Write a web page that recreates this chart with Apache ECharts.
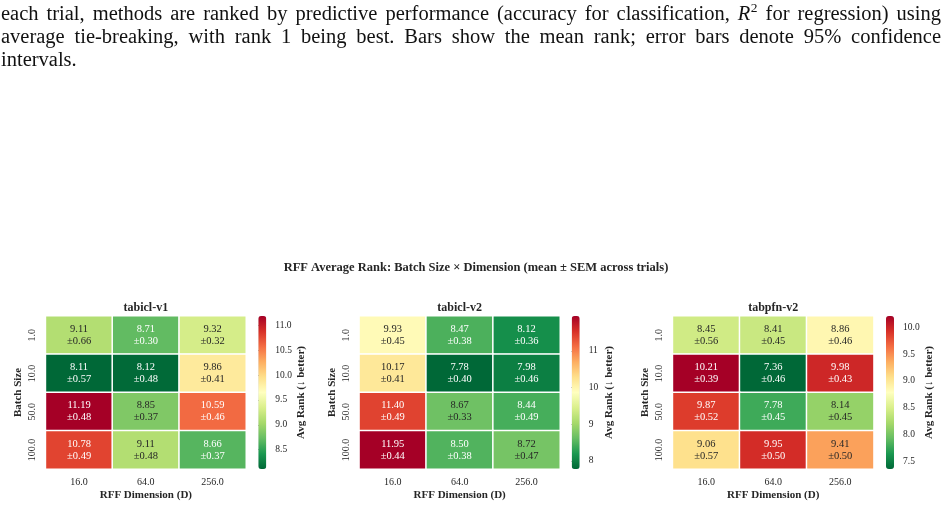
<!DOCTYPE html>
<html>
<head>
<meta charset="utf-8">
<script src="https://cdn.jsdelivr.net/npm/echarts@6/dist/echarts.min.js"></script>
<style>
  html, body { margin: 0; padding: 0; background: #fff; }
  #chart { width: 948px; height: 508px; }
</style>
</head>
<body>
<div id="chart"></div>
<script>
// ---- data ----
const batchSizes = ['1.0', '10.0', '50.0', '100.0'];
const rffDims = ['16.0', '64.0', '256.0'];
const models = ['tabicl-v1', 'tabicl-v2', 'tabpfn-v2'];

// rows = batch size, cols = RFF dimension
const meanTabiclV1 = [[9.11, 8.71, 9.32], [8.11, 8.12, 9.86], [11.19, 8.85, 10.59], [10.78, 9.11, 8.66]];
const semTabiclV1 = [[0.66, 0.30, 0.32], [0.57, 0.48, 0.41], [0.48, 0.37, 0.46], [0.49, 0.48, 0.37]];
const meanTabiclV2 = [[9.93, 8.47, 8.12], [10.17, 7.78, 7.98], [11.40, 8.67, 8.44], [11.95, 8.50, 8.72]];
const semTabiclV2 = [[0.45, 0.38, 0.36], [0.41, 0.40, 0.46], [0.49, 0.33, 0.49], [0.44, 0.38, 0.47]];
const meanTabpfnV2 = [[8.45, 8.41, 8.86], [10.21, 7.36, 9.98], [9.87, 7.78, 8.14], [9.06, 9.95, 9.41]];
const semTabpfnV2 = [[0.56, 0.45, 0.46], [0.39, 0.46, 0.43], [0.52, 0.45, 0.45], [0.57, 0.50, 0.50]];

const cbTicksV1 = [8.5, 9.0, 9.5, 10.0, 10.5, 11.0];
const cbTicksV2 = [8, 9, 10, 11];
const cbTicksPfn = [7.5, 8.0, 8.5, 9.0, 9.5, 10.0];

const suptitle = 'RFF Average Rank: Batch Size \u00d7 Dimension (mean \u00b1 SEM across trials)';
const paragraph = [
  'each trial, methods are ranked by predictive performance (accuracy for classification, R^2 for regression) using',
  'average tie-breaking, with rank 1 being best. Bars show the mean rank; error bars denote 95% confidence',
  'intervals.'
];

// ---- style / layout ----
const serif = '"Liberation Serif", "Times New Roman", serif';
const ink = '#262626';
// RdYlGn reversed
const cmap = ['#006837', '#1a9850', '#66bd63', '#a6d96a', '#d9ef8b', '#ffffbf',
  '#fee08b', '#fdae61', '#f46d43', '#d73027', '#a50026'];

const panels = [
  { mean: meanTabiclV1, sem: semTabiclV1, ticks: cbTicksV1, dec: 1, left: 45.7, width: 200.3, cbLeft: 258.3, cbGap: 27 },
  { mean: meanTabiclV2, sem: semTabiclV2, ticks: cbTicksV2, dec: 0, left: 359.3, width: 200.7, cbLeft: 571.7, cbGap: 24 },
  { mean: meanTabpfnV2, sem: semTabpfnV2, ticks: cbTicksPfn, dec: 1, left: 672.7, width: 201, cbLeft: 886, cbGap: 27 }
];
const gridTop = 316, gridH = 153, cbW = 8;

function hexRgb(h) {
  return [1, 3, 5].map(i => parseInt(h.slice(i, i + 2), 16));
}
function cmapAt(t) {
  const p = Math.max(0, Math.min(1, t)) * 10;
  const i = Math.min(9, Math.floor(p));
  const f = p - i;
  const a = hexRgb(cmap[i]), b = hexRgb(cmap[i + 1]);
  return a.map((v, j) => v + (b[j] - v) * f);
}
function luminance(rgb) {
  const c = rgb.map(v => {
    v /= 255;
    return v <= 0.03928 ? v / 12.92 : Math.pow((v + 0.055) / 1.055, 2.4);
  });
  return 0.2126 * c[0] + 0.7152 * c[1] + 0.0722 * c[2];
}

const grid = [], xAxis = [], yAxis = [], series = [], visualMap = [], graphic = [];

panels.forEach((p, k) => {
  const flat = p.mean.flat();
  const vmin = Math.min(...flat), vmax = Math.max(...flat);

  grid.push({ left: p.left, top: gridTop, width: p.width, height: gridH });
  grid.push({ left: p.cbLeft, top: gridTop, width: cbW, height: gridH });

  xAxis.push({
    type: 'category', gridIndex: 2 * k, data: rffDims,
    axisLine: { show: false }, axisTick: { show: false }, splitLine: { show: false },
    axisLabel: { margin: 8, fontSize: 10, color: ink, fontFamily: serif },
    name: 'RFF Dimension (D)', nameLocation: 'middle', nameGap: 21,
    nameTextStyle: { fontSize: 11, fontWeight: 'bold', color: ink, fontFamily: serif }
  });
  xAxis.push({ type: 'value', gridIndex: 2 * k + 1, show: false, min: 0, max: 1 });

  yAxis.push({
    type: 'category', gridIndex: 2 * k, data: batchSizes, inverse: true,
    axisLine: { show: false }, axisTick: { show: false }, splitLine: { show: false },
    axisLabel: { rotate: 90, margin: 8, fontSize: 10, color: ink, fontFamily: serif },
    name: 'Batch Size', nameLocation: 'middle', nameGap: 22, nameRotate: 90,
    nameTextStyle: { fontSize: 11, fontWeight: 'bold', color: ink, fontFamily: serif }
  });
  yAxis.push({
    type: 'value', gridIndex: 2 * k + 1, position: 'right', min: vmin, max: vmax,
    axisLine: { show: false }, splitLine: { show: false },
    axisTick: { show: true, length: 4, customValues: p.ticks, lineStyle: { color: ink, width: 0.8 } },
    axisLabel: {
      margin: 9, fontSize: 9.5, color: ink, fontFamily: serif,
      customValues: p.ticks, formatter: v => Number(v).toFixed(p.dec)
    },
    name: 'Avg Rank (\u2193 better)', nameLocation: 'middle', nameGap: p.cbGap, nameRotate: 90,
    nameTextStyle: { fontSize: 11, fontWeight: 'bold', color: ink, fontFamily: serif }
  });

  const data = [];
  p.mean.forEach((row, r) => row.forEach((m, c) => {
    const lum = luminance(cmapAt((m - vmin) / (vmax - vmin)));
    data.push({
      value: [c, r, m],
      label: { color: lum > 0.408 ? ink : '#ffffff' }
    });
  }));

  series.push({
    type: 'heatmap', xAxisIndex: 2 * k, yAxisIndex: 2 * k, data: data,
    itemStyle: { borderColor: '#ffffff', borderWidth: 1.5 },
    label: {
      show: true, fontSize: 10.5, lineHeight: 12, fontFamily: serif,
      formatter: d => d.value[2].toFixed(2) + '\n\u00b1' + p.sem[d.value[1]][d.value[0]].toFixed(2)
    },
    emphasis: { disabled: true }
  });

  visualMap.push({
    type: 'continuous', seriesIndex: k, min: vmin, max: vmax,
    inRange: { color: cmap }, orient: 'vertical',
    left: p.cbLeft, top: gridTop, itemWidth: cbW, itemHeight: gridH,
    padding: 0, calculable: false, hoverLink: false, show: true
  });

  graphic.push({
    type: 'text', x: p.left + p.width / 2, y: 308,
    style: { text: models[k], font: 'bold 12px ' + serif, fill: ink, textAlign: 'center', textVerticalAlign: 'middle' }
  });
});

graphic.push({
  type: 'text', x: 476, y: 268,
  style: { text: suptitle, font: 'bold 12.5px ' + serif, fill: ink, textAlign: 'center', textVerticalAlign: 'middle' }
});

// paragraph, justified like the source document
const paraSize = 20.5;
const paraFont = paraSize + 'px ' + serif;
const supFont = '13.5px ' + serif;
const paraBase = [20.7, 44, 67];
const ctx = document.createElement('canvas').getContext('2d');
function measure(w, font) { ctx.font = font; return ctx.measureText(w).width; }
function tokenWidth(w) {
  if (w === 'R^2') return measure('R', 'italic ' + paraFont) + measure('2', supFont) + 0.5;
  return measure(w, paraFont);
}
paragraph.forEach((line, li) => {
  const words = line.split(' ');
  const widths = words.map(tokenWidth);
  const total = widths.reduce((a, b) => a + b, 0);
  const justify = li < paragraph.length - 1;
  const gap = justify ? (941 - 1 - total) / (words.length - 1) : measure(' ', paraFont);
  let x = 1;
  const y = paraBase[li] - paraSize * 0.3;
  words.forEach((w, i) => {
    if (w === 'R^2') {
      const rw = measure('R', 'italic ' + paraFont);
      graphic.push({ type: 'text', x: x, y: y, style: { text: 'R', font: 'italic ' + paraFont, fill: '#111', textVerticalAlign: 'middle' } });
      graphic.push({ type: 'text', x: x + rw + 0.5, y: y - 6.5, style: { text: '2', font: supFont, fill: '#111', textVerticalAlign: 'middle' } });
    } else {
      graphic.push({ type: 'text', x: x, y: y, style: { text: w, font: paraFont, fill: '#111', textVerticalAlign: 'middle' } });
    }
    x += widths[i] + gap;
  });
});

const chart = echarts.init(document.getElementById('chart'));
chart.setOption({
  animation: false,
  backgroundColor: '#ffffff',
  textStyle: { fontFamily: serif },
  grid: grid,
  xAxis: xAxis,
  yAxis: yAxis,
  visualMap: visualMap,
  series: series,
  graphic: graphic
});
</script>
</body>
</html>
